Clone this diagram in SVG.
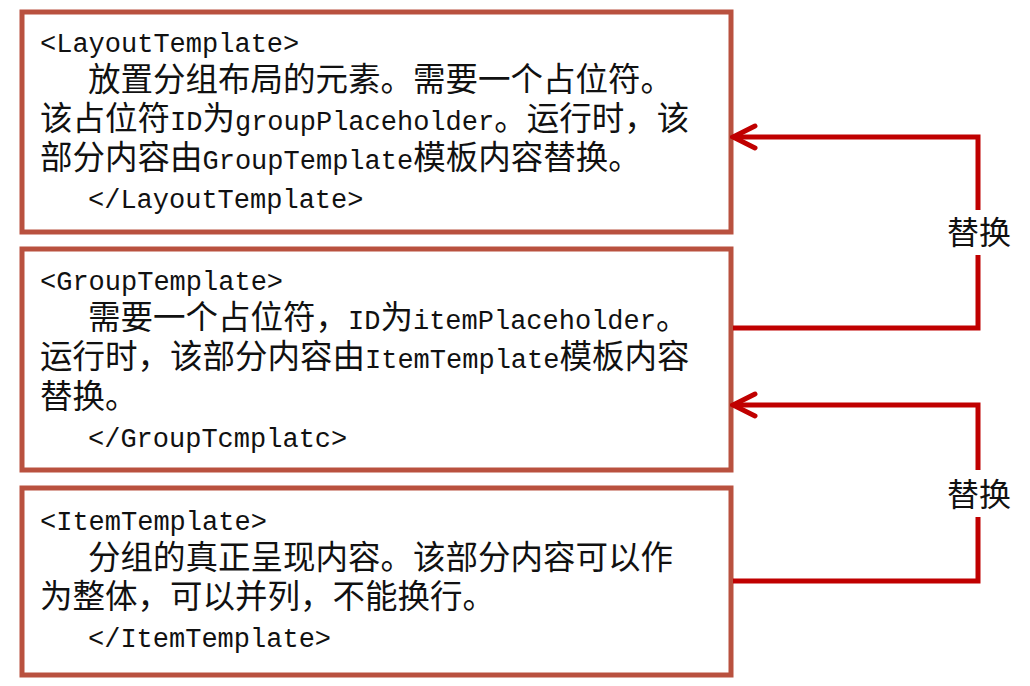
<svg xmlns="http://www.w3.org/2000/svg" width="1030" height="686" viewBox="0 0 1030 686">
<style>
.box{fill:#ffffff;stroke:#B9513F;stroke-width:5}
.t{font-family:"Noto Sans CJK SC","Noto Sans CJK JP",sans-serif;font-size:32.5px;fill:#111111}
.l{font-family:"Liberation Mono","DejaVu Sans Mono",monospace;font-size:27px}
.conn{fill:none;stroke:#C00000;stroke-width:5;stroke-linejoin:miter}
.lab{font-family:"Noto Sans CJK SC","Noto Sans CJK JP",sans-serif;font-size:32px;fill:#111111;text-anchor:middle}
</style>
<defs>
<marker id="arr" markerUnits="userSpaceOnUse" markerWidth="40" markerHeight="40" refX="37" refY="20" orient="auto" viewBox="0 0 40 40">
<path d="M15,9 L37,20 L15,31" fill="none" stroke="#C00000" stroke-width="5" stroke-linecap="round"/>
</marker>
</defs>
<rect width="1030" height="686" fill="#ffffff"/>
<g id="layoutTemplate">
<rect class="box" x="22" y="12" width="709" height="220"/>
<text class="t"><tspan x="40" y="52"><tspan class="l">&lt;LayoutTemplate&gt;</tspan></tspan><tspan x="88" y="91">放置分组布局的元素。需要一个占位符。</tspan><tspan x="40" y="130">该占位符<tspan class="l">ID</tspan>为<tspan class="l">groupPlaceholder</tspan>。运行时，该</tspan><tspan x="40" y="169">部分内容由<tspan class="l">GroupTemplate</tspan>模板内容替换。</tspan><tspan x="88" y="208"><tspan class="l">&lt;/LayoutTemplate&gt;</tspan></tspan></text>
</g>
<g id="groupTemplate">
<rect class="box" x="22" y="249" width="709" height="221"/>
<text class="t"><tspan x="40" y="290"><tspan class="l">&lt;GroupTemplate&gt;</tspan></tspan><tspan x="88" y="329">需要一个占位符，<tspan class="l">ID</tspan>为<tspan class="l">itemPlaceholder</tspan>。</tspan><tspan x="40" y="368">运行时，该部分内容由<tspan class="l">ItemTemplate</tspan>模板内容</tspan><tspan x="40" y="408">替换。</tspan><tspan x="88" y="447"><tspan class="l">&lt;/GroupTcmplatc&gt;</tspan></tspan></text>
</g>
<g id="itemTemplate">
<rect class="box" x="22" y="488" width="709" height="187"/>
<text class="t"><tspan x="40" y="530"><tspan class="l">&lt;ItemTemplate&gt;</tspan></tspan><tspan x="88" y="569">分组的真正呈现内容。该部分内容可以作</tspan><tspan x="40" y="608">为整体，可以并列，不能换行。</tspan><tspan x="88" y="647"><tspan class="l">&lt;/ItemTemplate&gt;</tspan></tspan></text>
</g>
<g id="connectors">
<path class="conn" d="M733,328 H978 V255 M978,210 V137 H733" marker-end="url(#arr)"/>
<text class="lab" x="979" y="244">替换</text>
<path class="conn" d="M733,581 H978 V517 M978,470 V405 H733" marker-end="url(#arr)"/>
<text class="lab" x="979" y="506">替换</text>
</g>
</svg>
